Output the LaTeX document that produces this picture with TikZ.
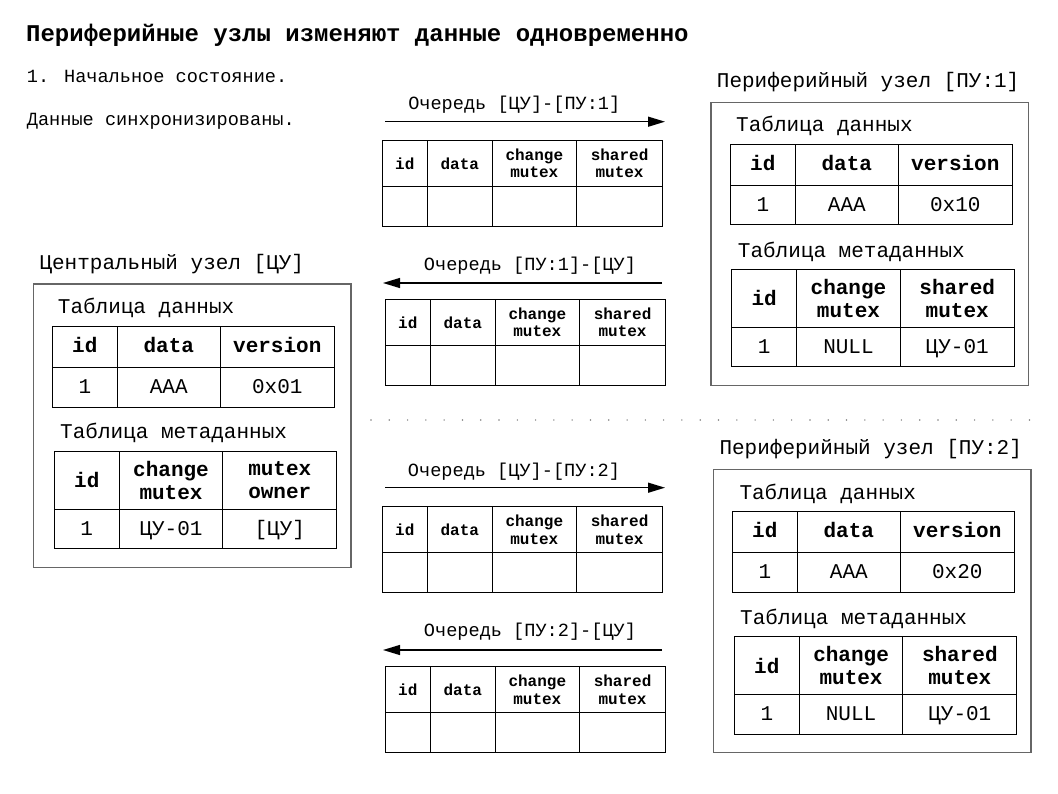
\documentclass[tikz,border=0pt]{standalone}
\usepackage{fontspec}
\setmainfont{Liberation Mono}
\usetikzlibrary{arrows.meta,positioning}

% queue table: name, x, y of top left corner
\newcommand\queuetable[3]{%
    \node [qhead, minimum width=45pt, anchor=north west] (#1-1) at (#2,#3) {id};
    \node [qhead, minimum width=65pt, right=0pt of #1-1] (#1-2) {data};
    \node [qhead, minimum width=84pt, right=0pt of #1-2] (#1-3) {change\\mutex};
    \node [qhead, minimum width=86.5pt, right=0pt of #1-3] (#1-4) {shared\\mutex};
    \foreach \i/\w in {1/45,2/65,3/84,4/86.5}
        \node [qcell, minimum width=\w pt, below=0pt of #1-\i] (#1-v\i) {};
}
% data table: name, x, y, version
\newcommand\datatable[4]{%
    \node [thead, minimum width=65pt, anchor=north west] (#1-1) at (#2,#3) {id};
    \node [thead, minimum width=103pt, right=0pt of #1-1] (#1-2) {data};
    \node [thead, minimum width=114pt, right=0pt of #1-2] (#1-3) {version};
    \node [tcell, minimum width=65pt, below=0pt of #1-1] (#1-v1) {1};
    \node [tcell, minimum width=103pt, below=0pt of #1-2] (#1-v2) {AAA};
    \node [tcell, minimum width=114pt, below=0pt of #1-3] (#1-v3) {#4};
}
% metadata table: name, x, y, third header, change mutex, third value
\newcommand\metatable[6]{%
    \node [mhead, minimum width=65pt, anchor=north west] (#1-1) at (#2,#3) {id};
    \node [mhead, minimum width=103.5pt, right=0pt of #1-1] (#1-2) {change\\mutex};
    \node [mhead, minimum width=114pt, right=0pt of #1-2] (#1-3) {#4};
    \node [tcell, minimum width=65pt, below=0pt of #1-1] (#1-v1) {1};
    \node [tcell, minimum width=103.5pt, below=0pt of #1-2] (#1-v2) {#5};
    \node [tcell, minimum width=114pt, below=0pt of #1-3] (#1-v3) {#6};
}

\begin{document}
\begin{tikzpicture}[x=1pt, y=-1pt]
    \tikzstyle{heading} = [anchor=base west, inner sep=0pt, font=\fontsize{24}{28}\selectfont\bfseries]
    \tikzstyle{note} = [anchor=base west, inner sep=0pt, font=\fontsize{18.6}{22}\selectfont]
    \tikzstyle{qlabel} = [anchor=base, inner sep=0pt, font=\fontsize{18.6}{22}\selectfont]
    \tikzstyle{title} = [anchor=base west, inner sep=0pt, font=\fontsize{21}{24}\selectfont]
    \tikzstyle{nodebox} = [draw=black!60, line width=1.5pt, outer sep=0pt, inner sep=0pt, anchor=north west]
    \tikzstyle{qhead} = [draw, line width=1.2pt, outer sep=0pt, inner sep=0pt, align=center, minimum height=46pt, font=\fontsize{16}{17.4}\selectfont\bfseries]
    \tikzstyle{qcell} = [draw, line width=1.2pt, outer sep=0pt, inner sep=0pt, minimum height=40pt]
    \tikzstyle{thead} = [draw, line width=1.2pt, outer sep=0pt, inner sep=0pt, minimum height=41pt, text height=13pt, text depth=2pt, font=\fontsize{21}{24}\selectfont\bfseries]
    \tikzstyle{mhead} = [draw, line width=1.2pt, outer sep=0pt, inner sep=0pt, align=center, minimum height=58pt, font=\fontsize{21}{23.3}\selectfont\bfseries]
    \tikzstyle{tcell} = [draw, line width=1.2pt, outer sep=0pt, inner sep=0pt, minimum height=39.5pt, text height=13pt, text depth=1pt, font=\fontsize{21}{24}\selectfont]
    \tikzstyle{qarrow} = [draw, line width=1.3pt, -{Triangle[length=17pt,width=10pt]}]
    \tikzstyle{separator} = [draw=black!50, line width=1.6pt, line cap=round, dash pattern=on 0pt off 18.29pt]

    \useasboundingbox (0,0) rectangle (1058,794);

    \node [heading] (head) at (26,41.7) {Периферийные узлы изменяют данные одновременно};
    \node [note] (step) at (26.7,82.7) {1. Начальное состояние.};
    \node [note] (state) at (26.7,126) {Данные синхронизированы.};

    % central node
    \node [title] (cutitle) at (39.3,269.3) {Центральный узел [ЦУ]};
    \node [nodebox, minimum width=317.7pt, minimum height=283.3pt] (cu) at (33.3,284) {};
    \node [title] (cudtitle) at (57.7,314) {Таблица данных};
    \datatable{cud}{52.3}{326.7}{0x01}
    \node [title] (cumtitle) at (60,438.3) {Таблица метаданных};
    \metatable{cum}{54.3}{451.3}{mutex\\owner}{ЦУ-01}{[ЦУ]}

    % peripheral node 1
    \node [title] (p1title) at (716.7,87.3) {Периферийный узел [ПУ:1]};
    \node [nodebox, minimum width=317.3pt, minimum height=283pt] (pu1) at (711,102.7) {};
    \node [title] (p1dtitle) at (736,132) {Таблица данных};
    \datatable{p1d}{730.3}{144.3}{0x10}
    \node [title] (p1mtitle) at (737.7,257.3) {Таблица метаданных};
    \metatable{p1m}{731.7}{269.3}{shared\\mutex}{NULL}{ЦУ-01}

    % peripheral node 2
    \node [title] (p2title) at (719.3,454) {Периферийный узел [ПУ:2]};
    \node [nodebox, minimum width=317.7pt, minimum height=283pt] (pu2) at (713.3,469.3) {};
    \node [title] (p2dtitle) at (739.3,499.3) {Таблица данных};
    \datatable{p2d}{732.3}{511.7}{0x20}
    \node [title] (p2mtitle) at (740,624) {Таблица метаданных};
    \metatable{p2m}{734.3}{636.7}{shared\\mutex}{NULL}{ЦУ-01}

    % queues
    \node [qlabel] (q1label) at (514.3,109.3) {Очередь [ЦУ]-[ПУ:1]};
    \coordinate (q1a) at (385,121.7);
    \coordinate (q1b) at (665,121.7);
    \path [qarrow] (q1a) -- (q1b);
    \queuetable{q1}{382.3}{140.3}

    \node [qlabel] (q2label) at (530,270.5) {Очередь [ПУ:1]-[ЦУ]};
    \coordinate (q2a) at (662,283);
    \coordinate (q2b) at (383,283);
    \path [qarrow] (q2a) -- (q2b);
    \queuetable{q2}{385.3}{299.3}

    \node [qlabel] (q3label) at (514,476) {Очередь [ЦУ]-[ПУ:2]};
    \coordinate (q3a) at (385,487.7);
    \coordinate (q3b) at (665,487.7);
    \path [qarrow] (q3a) -- (q3b);
    \queuetable{q3}{382.3}{506.7}

    \node [qlabel] (q4label) at (530,636.7) {Очередь [ПУ:2]-[ЦУ]};
    \coordinate (q4a) at (662,650);
    \coordinate (q4b) at (383,650);
    \path [qarrow] (q4a) -- (q4b);
    \queuetable{q4}{385.3}{666.7}

    \coordinate (sepl) at (371,420);
    \coordinate (sepr) at (1031,420);
    \path [separator] (sepl) -- (sepr);
\end{tikzpicture}
\end{document}
